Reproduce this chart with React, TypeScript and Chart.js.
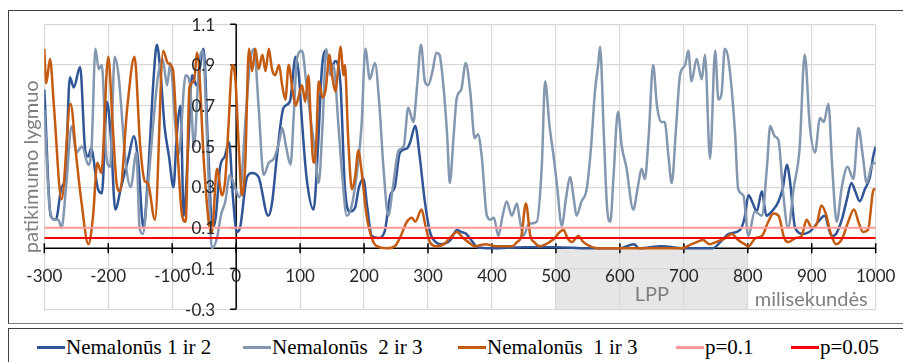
import React, { useEffect, useRef } from "react";
import { Chart, registerables } from "chart.js";

Chart.register(...registerables);

// ---------- data ----------
const X_TICKS = [-300, -200, -100, 0, 100, 200, 300, 400, 500, 600, 700, 800, 900, 1000];
const X_TICK_LABELS = ["-300", "-200", "-100", "0", "100", "200", "300", "400", "500", "600", "700", "800", "900", "1000"];
const Y_TICKS = [-0.3, -0.1, 0.1, 0.3, 0.5, 0.7, 0.9, 1.1];
const Y_TICK_LABELS = ["-0.3", "-0.1", "0.1", "0.3", "0.5", "0.7", "0.9", "1.1"];

const SERIES_NAMES = ["Nemalonūs 1 ir 2", "Nemalonūs  2 ir 3", "Nemalonūs  1 ir 3", "p=0.1", "p=0.05"];

// Nemalonūs 1 ir 2
const T1 = [-300, -290, -282, -273, -267, -260, -254, -244, -236, -231, -227, -216, -210, -202, -196, -189, -180, -168, -160, -153, -145, -138, -129, -124, -118, -112, -105, -98, -93, -87, -82, -75, -69, -62, -51, -44, -37, -32, -25, -18, -11, -5, 1, 6, 17, 25, 35, 50, 56, 64, 74, 84, 93, 98, 103, 110, 121, 128, 134, 140, 148, 155, 163, 170, 178, 186, 192, 199, 205, 212, 222, 232, 241, 248, 256, 267, 272, 280, 287, 295, 303, 312, 320, 335, 345, 352, 360, 370, 377, 400, 450, 500, 550, 600, 622, 630, 665, 700, 745, 760, 770, 788, 795, 801, 808, 814, 822, 829, 840, 848, 855, 861, 866, 874, 887, 900, 910, 920, 931, 938, 947, 955, 962, 968, 975, 983, 991, 996, 1000];
const V1 = [0.78, 0.16, 0.14, 0.30, 0.35, 0.84, 0.79, 0.89, 0.48, 0.45, 0.49, 0.29, 0.27, 0.72, 0.55, 0.19, 0.30, 0.45, 0.55, 0.42, 0.10, 0.35, 0.84, 1.0, 0.85, 0.60, 0.45, 0.30, 0.55, 0.70, 0.16, 0.50, 0.85, 0.80, 0.98, 0.50, 0.10, 0.15, 0.40, 0.45, 0.52, 0.25, 0.08, 0.10, 0.35, 0.37, 0.35, 0.16, 0.22, 0.46, 0.69, 0.72, 0.94, 0.85, 0.62, 0.35, 0.19, 0.50, 0.88, 0.97, 0.88, 0.92, 0.81, 0.30, 0.18, 0.20, 0.30, 0.34, 0.20, 0.06, 0.05, 0.08, 0.26, 0.30, 0.47, 0.49, 0.52, 0.60, 0.45, 0.23, 0.08, 0.03, 0.02, 0.04, 0.09, 0.08, 0.07, 0.03, 0.005, 0.0, 0.005, 0.005, 0.0, 0.0, 0.02, 0.0, 0.01, 0.0, 0.0, 0.04, 0.07, 0.09, 0.15, 0.26, 0.22, 0.18, 0.28, 0.16, 0.19, 0.23, 0.30, 0.41, 0.33, 0.10, 0.07, 0.09, 0.13, 0.16, 0.06, 0.07, 0.14, 0.24, 0.32, 0.28, 0.23, 0.29, 0.35, 0.45, 0.50];

// Nemalonūs 2 ir 3
const T2 = [-300, -291, -283, -278, -273, -266, -257, -250, -241, -231, -226, -220, -215, -210, -203, -197, -190, -184, -172, -165, -156, -151, -146, -138, -130, -122, -115, -108, -103, -95, -90, -79, -72, -66, -58, -52, -45, -38, -30, -24, -17, -10, -1, 5, 15, 22, 28, 35, 43, 51, 59, 67, 72, 78, 85, 90, 95, 103, 110, 118, 123, 129, 135, 141, 147, 152, 160, 166, 173, 180, 190, 196, 202, 209, 217, 224, 230, 238, 245, 254, 262, 269, 277, 283, 289, 295, 300, 307, 313, 318, 324, 330, 334, 340, 345, 352, 359, 366, 373, 378, 384, 392, 398, 403, 410, 416, 423, 431, 439, 443, 449, 458, 470, 478, 483, 490, 496, 502, 509, 516, 522, 528, 532, 540, 548, 555, 561, 566, 569, 575, 580, 585, 590, 597, 603, 610, 621, 628, 634, 639, 645, 652, 658, 665, 670, 676, 681, 688, 694, 702, 707, 712, 720, 728, 733, 741, 749, 754, 759, 764, 770, 780, 785, 793, 801, 811, 822, 830, 835, 842, 848, 855, 863, 872, 881, 889, 897, 905, 913, 919, 926, 932, 939, 947, 956, 965, 973, 980, 986, 994, 1000];
const V2 = [0.68, 0.18, 0.14, 0.14, 0.10, 0.30, 0.60, 0.47, 0.50, 0.41, 0.50, 0.98, 0.88, 0.90, 0.45, 0.40, 0.94, 0.85, 0.40, 0.30, 0.47, 0.10, 0.07, 0.30, 0.60, 0.85, 0.93, 0.80, 0.91, 0.60, 0.46, 0.85, 0.80, 0.50, 0.90, 0.97, 0.50, 0.0, 0.05, 0.16, 0.23, 0.36, 0.29, 0.25, 0.65, 0.92, 0.98, 0.70, 0.36, 0.42, 0.44, 0.52, 0.59, 0.50, 0.41, 0.65, 0.93, 0.97, 0.80, 0.60, 0.48, 0.32, 0.60, 0.98, 0.85, 0.90, 0.60, 0.35, 0.16, 0.20, 0.40, 0.60, 0.98, 0.83, 0.91, 0.70, 0.41, 0.16, 0.30, 0.48, 0.50, 0.69, 0.62, 0.80, 1.0, 0.82, 0.80, 0.87, 0.96, 0.95, 0.80, 0.55, 0.32, 0.55, 0.74, 0.78, 0.91, 0.77, 0.54, 0.56, 0.45, 0.16, 0.14, 0.15, 0.06, 0.15, 0.23, 0.16, 0.22, 0.15, 0.06, 0.12, 0.13, 0.41, 0.82, 0.60, 0.46, 0.30, 0.11, 0.25, 0.35, 0.24, 0.16, 0.23, 0.29, 0.50, 0.77, 0.90, 0.99, 0.55, 0.20, 0.13, 0.35, 0.67, 0.50, 0.40, 0.19, 0.30, 0.39, 0.34, 0.55, 0.90, 0.70, 0.62, 0.62, 0.45, 0.32, 0.60, 0.85, 0.90, 0.97, 0.82, 0.93, 0.83, 0.95, 0.44, 0.97, 0.73, 0.76, 0.98, 0.92, 0.57, 0.29, 0.26, 0.06, 0.18, 0.16, 0.40, 0.60, 0.55, 0.53, 0.28, 0.10, 0.30, 0.49, 0.95, 0.60, 0.47, 0.64, 0.62, 0.71, 0.40, 0.13, 0.30, 0.40, 0.34, 0.59, 0.45, 0.32, 0.41, 0.42];

// Nemalonūs 1 ir 3
const T3 = [-300, -297, -291, -285, -273, -259, -250, -242, -231, -224, -217, -211, -200, -193, -187, -182, -170, -159, -150, -143, -138, -127, -114, -107, -99, -92, -85, -79, -73, -66, -61, -50, -43, -38, -30, -22, -17, -12, -6, -1, 4, 9, 14, 20, 25, 30, 35, 41, 46, 51, 56, 61, 67, 72, 77, 82, 88, 93, 98, 103, 108, 113, 117, 121, 125, 129, 135, 140, 146, 150, 155, 160, 163, 168, 170, 175, 181, 186, 191, 196, 204, 212, 220, 236, 248, 256, 267, 275, 280, 290, 296, 303, 313, 325, 337, 345, 355, 363, 373, 390, 405, 420, 432, 439, 446, 453, 460, 466, 475, 490, 498, 506, 512, 518, 525, 535, 543, 553, 565, 600, 650, 697, 712, 720, 730, 740, 750, 765, 775, 785, 795, 801, 812, 822, 832, 840, 848, 857, 863, 875, 884, 892, 900, 908, 915, 922, 930, 938, 948, 957, 966, 974, 980, 988, 997, 1000];
const V3 = [0.98, 0.81, 0.93, 0.70, 0.24, 0.71, 0.45, 0.23, 0.02, 0.15, 0.42, 0.37, 0.94, 0.60, 0.32, 0.28, 0.70, 0.94, 0.50, 0.33, 0.32, 0.14, 0.97, 0.91, 0.88, 0.50, 0.17, 0.13, 0.79, 0.82, 0.96, 0.40, 0.13, 0.08, 0.39, 0.26, 0.34, 0.60, 0.90, 0.82, 0.50, 0.26, 0.40, 0.98, 0.87, 0.98, 0.88, 0.95, 0.87, 0.98, 0.88, 0.85, 0.90, 0.80, 0.73, 0.90, 0.78, 0.70, 0.75, 0.80, 0.72, 0.85, 0.60, 0.42, 0.50, 0.82, 0.74, 0.78, 0.95, 0.85, 0.77, 0.90, 0.99, 0.85, 0.90, 0.55, 0.29, 0.35, 0.48, 0.38, 0.16, 0.05, 0.01, 0.0, 0.01, 0.05, 0.13, 0.15, 0.13, 0.19, 0.11, 0.03, 0.01, 0.02, 0.06, 0.08, 0.05, 0.03, 0.01, 0.02, 0.01, 0.01, 0.01, 0.03, 0.06, 0.22, 0.06, 0.03, 0.01, 0.03, 0.05, 0.08, 0.09, 0.05, 0.03, 0.06, 0.03, 0.01, 0.0, 0.0, 0.0, 0.0, 0.02, 0.03, 0.04, 0.02, 0.03, 0.05, 0.07, 0.04, 0.02, 0.01, 0.05, 0.06, 0.13, 0.17, 0.16, 0.05, 0.03, 0.05, 0.06, 0.14, 0.10, 0.12, 0.21, 0.17, 0.07, 0.02, 0.05, 0.13, 0.19, 0.12, 0.08, 0.09, 0.29, 0.29];

const P_RANGE = [-300, 1000];
const P01 = [0.1, 0.1];
const P005 = [0.05, 0.05];

const LPP_RANGE = [500, 800];
const LPP_Y = [-0.3, 0];
const LPP_LABEL = "LPP";
const X_TITLE = "milisekundės";
const Y_TITLE = "patikimumo lygmuo";

// ---------- styles ----------
const COLORS = ["#2F5597", "#8497B0", "#C55A11", "#FF9B9B", "#FF0000"];
const TICK_FONT = "17px Lato";
const TICK_COLOR = "#262626";

const pts = (t: number[], v: number[]) => t.map((x, i) => ({ x, y: v[i] }));

const decorPlugin = {
  id: "decor",
  beforeDraw(chart: any) {
    const { ctx, scales } = chart;
    const x = scales.x, y = scales.y;
    const x0 = x.getPixelForValue(LPP_RANGE[0]);
    const x1 = x.getPixelForValue(LPP_RANGE[1]);
    const y0 = y.getPixelForValue(LPP_Y[1]);
    const y1 = y.getPixelForValue(LPP_Y[0]);
    ctx.save();
    ctx.fillStyle = "#E7E6E6";
    ctx.fillRect(x0, y0, x1 - x0, y1 - y0);
    ctx.restore();
  },
  beforeDatasetsDraw(chart: any) {
    const { ctx, scales, chartArea } = chart;
    const x = scales.x, y = scales.y;
    const y0 = y.getPixelForValue(0);
    const x0 = x.getPixelForValue(0);
    ctx.save();
    ctx.strokeStyle = "#000";
    ctx.lineWidth = 1.5;
    ctx.beginPath();
    ctx.moveTo(x.getPixelForValue(X_TICKS[0]), y0);
    ctx.lineTo(x.getPixelForValue(X_TICKS[X_TICKS.length - 1]), y0);
    for (const t of X_TICKS) {
      const px = x.getPixelForValue(t);
      ctx.moveTo(px, y0 - 5);
      ctx.lineTo(px, y0 + 5);
    }
    ctx.stroke();
    ctx.beginPath();
    ctx.moveTo(x0, y.getPixelForValue(Y_TICKS[Y_TICKS.length - 1]));
    ctx.lineTo(x0, y.getPixelForValue(Y_TICKS[0]));
    for (const t of Y_TICKS) {
      const py = y.getPixelForValue(t);
      ctx.moveTo(x0 - 6, py);
      ctx.lineTo(x0, py);
    }
    ctx.stroke();
    ctx.restore();

    ctx.save();
    ctx.fillStyle = "#7F7F7F";
    ctx.font = "20px Lato";
    ctx.textAlign = "center";
    ctx.textBaseline = "alphabetic";
    const yb = y.getPixelForValue(LPP_Y[0]);
    ctx.fillText(LPP_LABEL, x.getPixelForValue((LPP_RANGE[0] + LPP_RANGE[1]) / 2), yb - 8);
    ctx.font = "20px Lato";
    ctx.textAlign = "right";
    ctx.fillText(X_TITLE, x.getPixelForValue(X_TICKS[X_TICKS.length - 1]) - 8, yb - 3);
    ctx.font = "20px Lato";
    ctx.textAlign = "center";
    ctx.textBaseline = "middle";
    ctx.translate(24, (chartArea.top + chartArea.bottom) / 2);
    ctx.rotate(-Math.PI / 2);
    ctx.fillText(Y_TITLE, 0, 0);
    ctx.restore();
  },
  afterDatasetsDraw(chart: any) {
    const { ctx, scales } = chart;
    const x = scales.x, y = scales.y;
    const y0 = y.getPixelForValue(0);
    const x0 = x.getPixelForValue(0);
    ctx.save();
    ctx.fillStyle = TICK_COLOR;
    ctx.font = TICK_FONT;
    ctx.textBaseline = "alphabetic";
    ctx.textAlign = "center";
    X_TICKS.forEach((t, i) => {
      ctx.fillText(X_TICK_LABELS[i], x.getPixelForValue(t), y0 + 34);
    });
    ctx.textAlign = "right";
    Y_TICKS.forEach((t, i) => {
      ctx.fillText(Y_TICK_LABELS[i], x0 - 21, y.getPixelForValue(t) + 6.3);
    });
    ctx.restore();
  },
};

export default function App() {
  const ref = useRef<HTMLCanvasElement | null>(null);

  useEffect(() => {
    if (!ref.current) return;
    const line = (label: string, data: any[], color: string, width: number, order: number) => ({
      label,
      data,
      borderColor: color,
      backgroundColor: color,
      borderWidth: width,
      pointRadius: 0,
      fill: false,
      cubicInterpolationMode: "monotone" as const,
      order,
    });
    const chart = new Chart(ref.current, {
      type: "line",
      data: {
        datasets: [
          line(SERIES_NAMES[0], pts(T1, V1), COLORS[0], 2.5, 5),
          line(SERIES_NAMES[1], pts(T2, V2), COLORS[1], 2.5, 4),
          line(SERIES_NAMES[2], pts(T3, V3), COLORS[2], 2.5, 3),
          line(SERIES_NAMES[3], pts(P_RANGE, P01), COLORS[3], 2, 2),
          line(SERIES_NAMES[4], pts(P_RANGE, P005), COLORS[4], 2, 1),
        ],
      },
      options: {
        responsive: false,
        animation: false,
        events: [],
        layout: { padding: { left: 36.3, top: 16.3, right: 35.3, bottom: 12.7 } },
        plugins: { legend: { display: false }, tooltip: { enabled: false } },
        scales: {
          x: {
            type: "linear",
            min: -300,
            max: 1000,
            afterBuildTicks: (s: any) => { s.ticks = X_TICKS.map((v) => ({ value: v })); },
            ticks: { display: false },
            grid: { color: "#D9D9D9", lineWidth: 1.2, drawTicks: false },
            border: { display: false },
          },
          y: {
            type: "linear",
            min: -0.3,
            max: 1.1,
            afterBuildTicks: (s: any) => { s.ticks = Y_TICKS.map((v) => ({ value: v })); },
            ticks: { display: false },
            grid: { color: "#D9D9D9", lineWidth: 1.2, drawTicks: false },
            border: { display: false },
          },
        },
      },
      plugins: [decorPlugin],
    });
    return () => chart.destroy();
  }, []);

  const legendItems = [
    { left: 29, color: COLORS[0] },
    { left: 235, color: COLORS[1] },
    { left: 450, color: COLORS[2] },
    { left: 668, color: COLORS[3] },
    { left: 783, color: COLORS[4] },
  ];

  return (
    <div style={{ position: "relative", width: 903, height: 354, overflow: "hidden" }}>
      <div style={{ position: "absolute", left: 0, top: 2, width: 1000, height: 312, borderLeft: "1px solid #404040", borderTop: "1px solid #404040", borderBottom: "1px solid #7F7F7F" }} />
      <div style={{ position: "absolute", left: 0, top: 320, width: 1000, height: 60, borderLeft: "1px solid #404040", borderTop: "1px solid #404040" }} />
      <canvas ref={ref} width={903} height={314} style={{ position: "absolute", left: 0, top: 0, display: "block" }} />
      {legendItems.map((it, i) => (
        <div key={i} style={{ position: "absolute", left: it.left, top: 326, height: 26, display: "flex", alignItems: "center", whiteSpace: "pre", fontFamily: "'Liberation Serif', serif", fontSize: 21, color: "#000" }}>
          <span style={{ display: "inline-block", width: 28, height: 3, background: it.color, marginRight: 1 }} />
          <span>{SERIES_NAMES[i]}</span>
        </div>
      ))}
    </div>
  );
}
